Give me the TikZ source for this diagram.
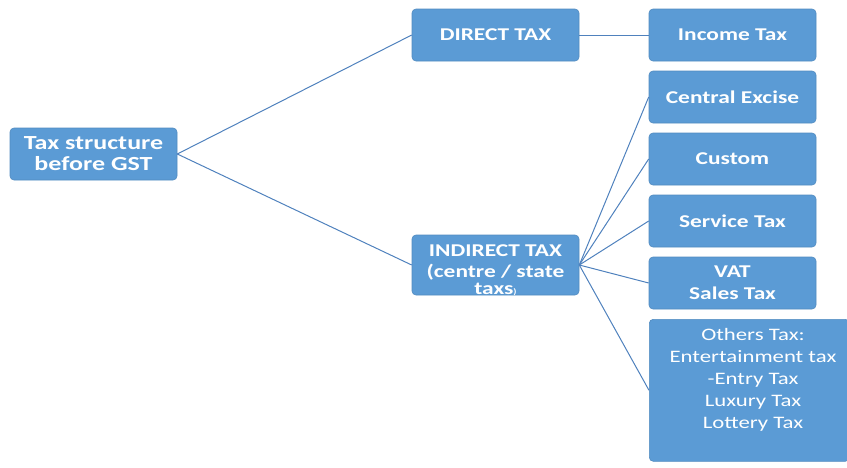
\documentclass[tikz,border=0pt]{standalone}
\usepackage{fontspec}
\setmainfont[FakeStretch=1.3]{Carlito}
\definecolor{boxblue}{HTML}{5B9BD5}
\definecolor{lineblue}{HTML}{4F81BD}
\begin{document}
\begin{tikzpicture}[x=1pt,y=-1pt,
  tbox/.style={fill=boxblue, draw=boxblue!90!black, line width=0.6pt, rounded corners=4pt, text=white, font=\bfseries\fontsize{18}{22}\selectfont, align=center, inner sep=0pt},
  conn/.style={draw=lineblue, line width=1pt}]
\useasboundingbox (0,0) rectangle (847,467);
\node[tbox, minimum width=167pt, minimum height=52pt, font=\bfseries\fontsize{20}{21}\selectfont] (root) at (93.5,154) {Tax structure\\before GST};
\node[tbox, minimum width=167pt, minimum height=52pt] (direct) at (495.5,35) {DIRECT TAX};
\node[tbox, minimum width=167pt, minimum height=52pt] (income) at (732.5,35) {Income Tax};
\node[tbox, minimum width=167pt, minimum height=60pt] (indirect) at (495.5,265) {};
\node[text=white, font=\bfseries\fontsize{18}{20}\selectfont, align=center, inner sep=0pt] (indirecttxt) at (495.5,270) {INDIRECT TAX\\[1pt](centre / state\\[-3pt]taxs{\fontsize{8}{8}\selectfont)}};
\node[tbox, minimum width=167pt, minimum height=52pt] (excise) at (732.5,97) {Central Excise};
\node[tbox, minimum width=167pt, minimum height=52pt] (custom) at (732.5,159) {Custom};
\node[tbox, minimum width=167pt, minimum height=52pt] (service) at (732.5,221) {Service Tax};
\node[tbox, minimum width=167pt, minimum height=52pt, font=\bfseries\fontsize{18}{22}\selectfont] (vat) at (732.5,283) {VAT\\Sales Tax};
\node[tbox, minimum width=200pt, minimum height=142pt, anchor=north west] (others) at (649,319) {};
\node[text=white, font=\fontsize{17.5}{22}\selectfont, align=center, anchor=north, inner sep=0pt] (otherstxt) at (753,328) {Others Tax:\\Entertainment tax\\-Entry Tax\\Luxury Tax\\Lottery Tax};
\draw[conn] (root.east) -- (direct.west);
\draw[conn] (root.east) -- (indirect.west);
\draw[conn] (direct.east) -- (income.west);
\draw[conn] (indirect.east) -- (excise.west);
\draw[conn] (indirect.east) -- (custom.west);
\draw[conn] (indirect.east) -- (service.west);
\draw[conn] (indirect.east) -- (vat.west);
\draw[conn] (indirect.east) -- (others.west);
\end{tikzpicture}
\end{document}
